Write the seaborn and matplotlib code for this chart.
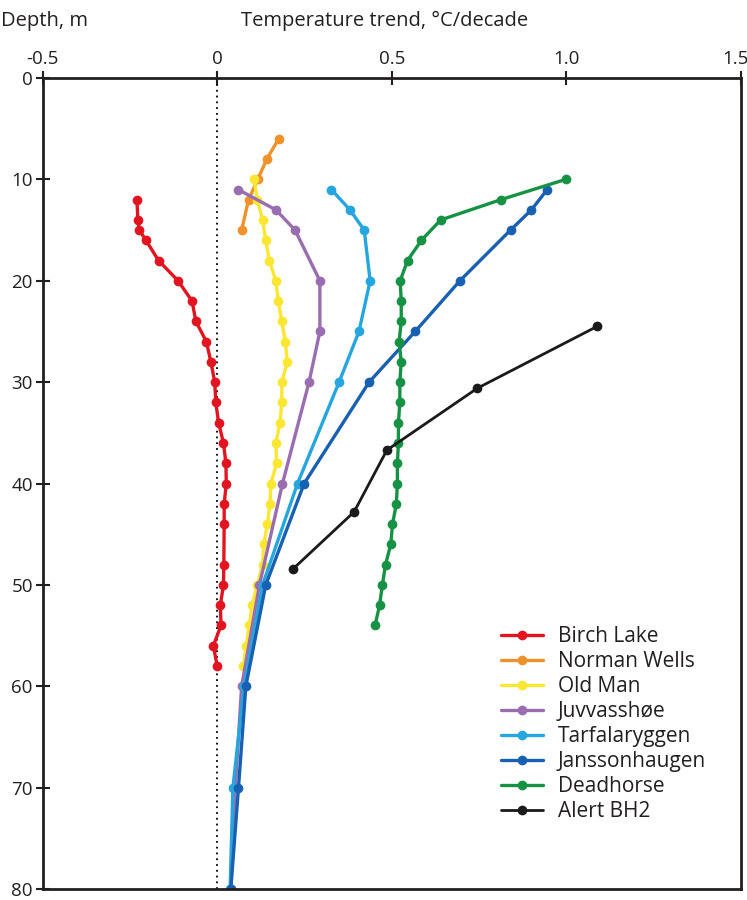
import numpy as np
import pandas as pd
import matplotlib
matplotlib.use('Agg')
import matplotlib.pyplot as plt
import matplotlib.transforms as mtransforms
import seaborn as sns

# depth profiles (m) and temperature trend (°C/decade)
birch_depth = [12, 14, 15, 16, 18, 20, 22, 24, 26, 28, 30, 32, 34, 36, 38, 40, 42, 44, 48, 50, 52, 54, 56, 58]
birch_trend = [-0.23, -0.227, -0.223, -0.204, -0.168, -0.112, -0.072, -0.061, -0.031, -0.018, -0.007, -0.004,
               0.004, 0.018, 0.025, 0.026, 0.02, 0.02, 0.019, 0.018, 0.009, 0.011, -0.011, 0.0]

norman_depth = [6, 8, 10, 12, 15]
norman_trend = [0.176, 0.142, 0.116, 0.09, 0.07]

oldman_depth = [10, 12, 14, 16, 18, 20, 22, 24, 26, 28, 30, 32, 34, 36, 38, 40, 42, 44, 46, 48, 50, 52, 54, 56, 58]
oldman_trend = [0.106, 0.115, 0.13, 0.139, 0.149, 0.168, 0.175, 0.185, 0.195, 0.201, 0.185, 0.185, 0.18, 0.168,
                0.17, 0.154, 0.151, 0.144, 0.133, 0.13, 0.115, 0.1, 0.092, 0.083, 0.075]

juv_depth = [11, 13, 15, 20, 25, 30, 40, 50, 60, 70, 80]
juv_trend = [0.06, 0.168, 0.223, 0.294, 0.294, 0.263, 0.187, 0.121, 0.07, 0.052, 0.039]

tarf_depth = [11, 13, 15, 20, 25, 30, 40, 50, 60, 70, 80]
tarf_trend = [0.327, 0.38, 0.421, 0.438, 0.406, 0.349, 0.23, 0.13, 0.077, 0.045, 0.037]

jans_depth = [11, 13, 15, 20, 25, 30, 40, 50, 60, 70, 80]
jans_trend = [0.945, 0.9, 0.84, 0.695, 0.567, 0.435, 0.249, 0.139, 0.082, 0.061, 0.039]

dead_depth = [10, 12, 14, 16, 18, 20, 22, 24, 26, 28, 30, 32, 34, 36, 38, 40, 42, 44, 46, 48, 50, 52, 54]
dead_trend = [0.998, 0.812, 0.64, 0.585, 0.545, 0.524, 0.527, 0.527, 0.521, 0.527, 0.523, 0.523, 0.519, 0.519,
              0.516, 0.516, 0.513, 0.502, 0.497, 0.482, 0.473, 0.465, 0.452]

alert_depth = [24.5, 30.6, 36.7, 42.8, 48.4]
alert_trend = [1.088, 0.745, 0.486, 0.392, 0.218]

SITES = ["Birch Lake", "Norman Wells", "Old Man", "Juvvasshøe", "Tarfalaryggen",
         "Janssonhaugen", "Deadhorse", "Alert BH2"]
COLORS = ["#e2141f", "#f0922b", "#fbe632", "#9a6db0", "#26a6de", "#1860b2", "#169244", "#1a1a1a"]
X_TICKS = [-0.5, 0, 0.5, 1.0, 1.5]
X_LABELS = ['-0.5', '0', '0.5', '1.0', '1.5']

profiles = [(birch_depth, birch_trend), (norman_depth, norman_trend), (oldman_depth, oldman_trend),
            (juv_depth, juv_trend), (tarf_depth, tarf_trend), (jans_depth, jans_trend),
            (dead_depth, dead_trend), (alert_depth, alert_trend)]

rows = []
for site, (d, t) in zip(SITES, profiles):
    for dd, tt in zip(d, t):
        rows.append({'site': site, 'depth': dd, 'trend': tt})
df = pd.DataFrame(rows)

sns.set_style('ticks')
plt.rcParams['font.family'] = ['Open Sans', 'DejaVu Sans']
text_col = '#231f20'

fig = plt.figure(figsize=(7.47, 9.0), dpi=100)
ax = fig.add_axes([0.057, 0.0122, 0.935, 0.9011])

# dotted zero line
ax.axvline(0, color='black', linestyle=(0, (1, 2.2)), linewidth=1.3, zorder=1)

for site, col in zip(SITES, COLORS):
    sub = df[df['site'] == site]
    lw = 2.0 if site == "Alert BH2" else 2.4
    sns.lineplot(data=sub, x='trend', y='depth', sort=False, estimator=None, color=col,
                 marker='o', markersize=7, markeredgewidth=0, linewidth=lw, label=site, ax=ax)

ax.set_xlim(-0.5, 1.5)
ax.set_ylim(80, 0)
ax.set_xticks(X_TICKS)
ax.set_xticklabels(X_LABELS)
ax.set_yticks(np.arange(0, 81, 10))
ax.xaxis.tick_top()
ax.tick_params(axis='x', direction='inout', length=10, width=1.5, colors=text_col, labelsize=13.5, pad=2)
ax.tick_params(axis='y', direction='inout', length=10, width=1.5, colors=text_col, labelsize=13.5, pad=2)
for s in ax.spines.values():
    s.set_linewidth(2.0)
    s.set_color('#231f20')
    s.set_visible(True)
ax.set_xlabel('')
ax.set_ylabel('')

# nudge the last tick label so it stays inside the canvas
last = ax.get_xticklabels()[-1]
last.set_transform(last.get_transform() + mtransforms.ScaledTranslation(-6 / 100, 0, fig.dpi_scale_trans))

fig.text(0.002, 0.977, 'Depth, m', fontsize=14.5, color=text_col, ha='left', va='center')
fig.text(0.515, 0.977, 'Temperature trend, °C/decade', fontsize=14.5, color=text_col, ha='center', va='center')

leg = ax.legend(loc='upper left', bbox_to_anchor=(0.645, 0.334), frameon=False, fontsize=15,
                handlelength=2.0, handletextpad=0.7, labelspacing=0.19, borderaxespad=0)
for t in leg.get_texts():
    t.set_color(text_col)

fig.savefig('out.png', dpi=100)
